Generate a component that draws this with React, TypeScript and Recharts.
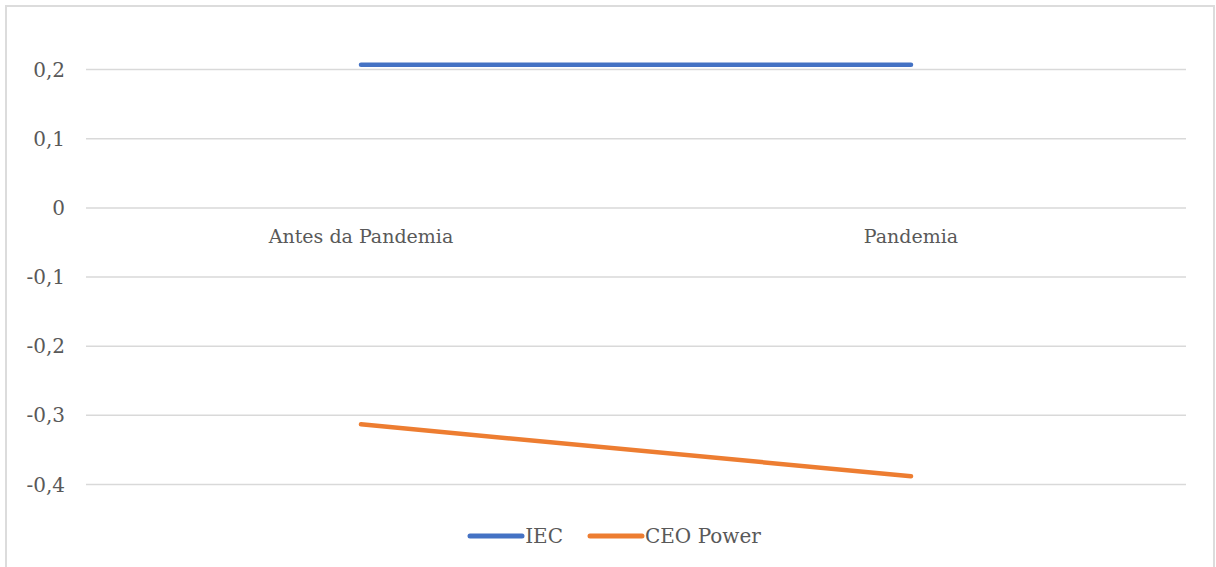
import { LineChart, Line, XAxis, YAxis, CartesianGrid, Legend, ReferenceDot } from 'recharts';

const periods = ['Antes da Pandemia', 'Pandemia'];
const iecValues = [0.207, 0.207];
const ceoPowerValues = [-0.313, -0.388];
const yTicks = [-0.4, -0.3, -0.2, -0.1, 0, 0.1, 0.2];
const seriesOrder = ['IEC', 'CEO Power'];

const data = periods.map((period, i) => ({
  period,
  iec: iecValues[i],
  ceoPower: ceoPowerValues[i],
}));

const FONT = '"DejaVu Serif", "Liberation Serif", serif';
const TEXT_COLOR = '#595959';

const formatTick = (v: number) => {
  if (Math.abs(v) < 1e-9) return '0';
  return v.toFixed(1).replace('.', ',');
};

const renderLegend = (props: any) => {
  const items = [...(props.payload || [])].sort(
    (a: any, b: any) => seriesOrder.indexOf(a.value) - seriesOrder.indexOf(b.value)
  );
  return (
    <div style={{ display: 'flex', justifyContent: 'center', alignItems: 'center', height: 30, paddingLeft: 42 }}>
      {items.map((entry: any, i: number) => (
        <div key={i} style={{ display: 'flex', alignItems: 'center', marginRight: i === 0 ? 24 : 0 }}>
          <svg width={58} height={10}>
            <line x1={3} y1={5} x2={55} y2={5} stroke={entry.color} strokeWidth={5} strokeLinecap="round" />
          </svg>
          <span style={{ fontFamily: FONT, fontSize: 20, color: TEXT_COLOR }}>{entry.value}</span>
        </div>
      ))}
    </div>
  );
};

export default function App() {
  return (
    <div style={{ position: 'absolute', left: 0, top: 0, width: 1216, height: 567, overflow: 'hidden', background: '#fff', fontFamily: FONT }}>
      <div
        style={{
          position: 'absolute',
          left: 5,
          top: 5,
          width: 1206,
          height: 570,
          border: '2px solid #dcdcdc',
        }}
      />
      <div style={{ position: 'absolute', left: 0, top: 0 }}>
        <LineChart
          width={1216}
          height={567}
          data={data}
          margin={{ top: 35, right: 30, left: 0, bottom: 52.5 }}
          style={{ fontFamily: FONT }}
        >
          <CartesianGrid vertical={false} horizontalValues={yTicks} stroke="#d9d9d9" strokeWidth={1.5} />
          <XAxis dataKey="period" hide padding={{ left: 275, right: 275 }} />
          <YAxis
            width={86}
            domain={[-0.4, 0.25]}
            ticks={yTicks}
            tickFormatter={formatTick}
            axisLine={false}
            tickLine={false}
            tickMargin={15}
            tick={{ fontFamily: FONT, fontSize: 20, fill: TEXT_COLOR }}
          />
          {periods.map((p) => (
            <ReferenceDot
              key={p}
              x={p}
              y={0}
              r={0}
              fill="none"
              stroke="none"
              label={{ value: p, position: 'bottom', offset: 22, fontFamily: FONT, fontSize: 19, fill: TEXT_COLOR }}
            />
          ))}
          <Line
            type="linear"
            dataKey="iec"
            name="IEC"
            stroke="#4472C4"
            strokeWidth={4.5}
            strokeLinecap="round"
            dot={false}
            activeDot={false}
            isAnimationActive={false}
          />
          <Line
            type="linear"
            dataKey="ceoPower"
            name="CEO Power"
            stroke="#ED7D31"
            strokeWidth={4.5}
            strokeLinecap="round"
            dot={false}
            activeDot={false}
            isAnimationActive={false}
          />
          <Legend verticalAlign="bottom" content={renderLegend} wrapperStyle={{ bottom: 16 }} />
        </LineChart>
      </div>
    </div>
  );
}
